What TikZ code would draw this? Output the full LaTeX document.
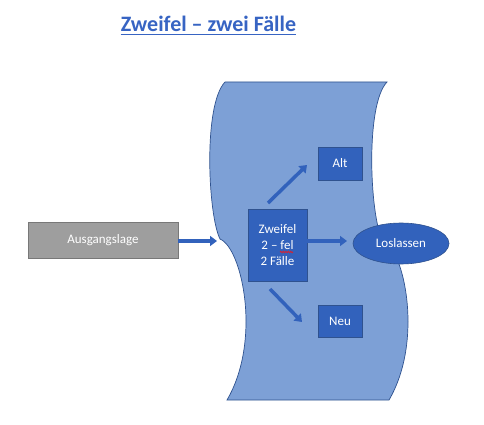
\documentclass[tikz,border=0pt]{standalone}
\usepackage{fontspec}
\setmainfont{Carlito}
\usetikzlibrary{arrows.meta,shapes.geometric,decorations.pathmorphing}
\definecolor{wave}{RGB}{125,160,214}
\definecolor{waveline}{RGB}{47,82,143}
\definecolor{boxblue}{RGB}{50,98,188}
\definecolor{titleblue}{RGB}{55,100,195}
\definecolor{grayfill}{RGB}{158,158,158}
\definecolor{grayline}{RGB}{120,120,120}
\definecolor{spellred}{RGB}{225,30,40}
\begin{document}
\begin{tikzpicture}[x=1pt,y=-1pt,
  bluebox/.style={draw=waveline, line width=0.6pt, fill=boxblue, text=white,
    font=\fontsize{13}{16}\selectfont, inner sep=0pt, align=center},
  graybox/.style={draw=grayline, line width=0.6pt, fill=grayfill, text=white,
    font=\fontsize{13}{16}\selectfont, inner sep=0pt},
  fatarrow/.style={draw=boxblue, line width=3.5pt, -{Triangle[length=7pt,width=10pt]}},
]
\useasboundingbox (0,0) rectangle (484,425);
\fill[white] (0,0) rectangle (484,425);

% title
\node[font=\fontsize{22}{26}\selectfont\bfseries, text=titleblue, anchor=base, inner sep=0pt]
  (title) at (208.5,32) {Zweifel – zwei Fälle};
\draw[titleblue, line width=1.5pt] ([yshift=-2.5pt]title.base west) -- ([yshift=-2.5pt]title.base east);

% double wave shape
\draw[waveline, line width=0.7pt, fill=wave]
  (225,82) -- (387,82)
  .. controls (365,105) and (370,215) .. (382,239)
  .. controls (404,248) and (424,340) .. (389,400)
  -- (227,400)
  .. controls (262,340) and (242,248) .. (220,239)
  .. controls (208,215) and (203,105) .. (225,82) -- cycle;

% nodes
\node[graybox, minimum width=150pt, minimum height=36pt] (ag) at (103,240.5) {Ausgangslage};
\node[bluebox, minimum width=59pt, minimum height=72pt] (zw) at (277.5,245) {Zweifel\\2 – fel\\2 Fälle};
\node[bluebox, minimum width=44pt, minimum height=33pt] (alt) at (340,163.5) {Alt};
\node[bluebox, minimum width=44pt, minimum height=32pt] (neu) at (340,321) {Neu};
\node[bluebox, ellipse, minimum width=96pt, minimum height=41pt] (ls) at (401,243.5) {Loslassen};

% spelling squiggle
\draw[spellred, line width=0.8pt, decorate, decoration={snake, amplitude=0.7pt, segment length=2.5pt}]
  (280,252) -- (293,252);

% connectors
\coordinate (notch) at (217,241);
\coordinate (lsin) at (347,241);
\coordinate (upS) at (268,203);
\coordinate (upE) at (307,165);
\coordinate (dnS) at (270,289);
\coordinate (dnE) at (302,322);
\draw[fatarrow] (ag.east |- notch) -- (notch);
\draw[fatarrow] (zw.east |- lsin) -- (lsin);
\draw[fatarrow] (upS) -- (upE);
\draw[fatarrow] (dnS) -- (dnE);
\end{tikzpicture}
\end{document}
